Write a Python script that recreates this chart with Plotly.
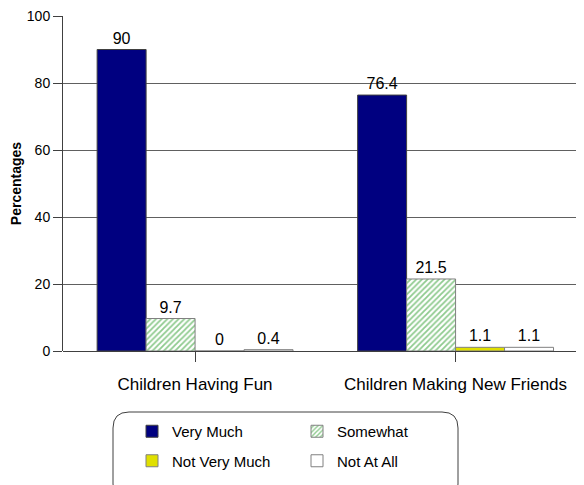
import plotly.graph_objects as go

categories = ["Children Having Fun", "Children Making New Friends"]
very_much = [90, 76.4]
somewhat = [9.7, 21.5]
not_very_much = [0, 1.1]
not_at_all = [0.4, 1.1]
y_ticks = [0, 20, 40, 60, 80, 100]

FONT = "Arial, Liberation Sans, sans-serif"
OFF = 8  # page body margin in the browser
W, H = 584 - OFF, 485 - OFF
# plot area in window pixels: x 63..584, y 16..351
L, R, T, B = 63 - OFF, 0, 16 - OFF, H - (351 - OFF)
PW, PH = W - L - R, H - T - B


def px(x):
    return (x - OFF - L) / PW


def py(y):
    return (H - B - (y - OFF)) / PH


fig = go.Figure()
series = [
    ("Very Much", very_much, dict(color="#000080", line=dict(color="#404040", width=1)), "legend", "g1"),
    ("Somewhat", somewhat, dict(color="white", pattern=dict(shape="/", fgcolor="#1e961e", bgcolor="white", size=4, solidity=0.45),
                                line=dict(color="#808080", width=1)), "legend2", "g2"),
    ("Not Very Much", not_very_much, dict(color="#e0e000", line=dict(color="#808080", width=1)), "legend", "g3"),
    ("Not At All", not_at_all, dict(color="white", line=dict(color="#808080", width=1)), "legend2", "g4"),
]
for name, vals, marker, leg, grp in series:
    fig.add_trace(go.Bar(
        name=name, x=categories, y=vals, marker=marker,
        text=[f"{v:g}" for v in vals], textposition="outside",
        textfont=dict(family=FONT, size=16, color="black"),
        cliponaxis=False, legend=leg, legendgroup=grp,
    ))

# rounded legend box
x0, x1, y0, y1, r = px(113), px(458), py(412), py(500), 16
rx, ry = r / PW, r / PH
path = (f"M {x0+rx},{y0} L {x1-rx},{y0} Q {x1},{y0} {x1},{y0-ry} "
        f"L {x1},{y1+ry} Q {x1},{y1} {x1-rx},{y1} L {x0+rx},{y1} "
        f"Q {x0},{y1} {x0},{y1+ry} L {x0},{y0-ry} Q {x0},{y0} {x0+rx},{y0} Z")
fig.add_shape(type="path", path=path, xref="paper", yref="paper",
              line=dict(color="#404040", width=1), fillcolor="rgba(0,0,0,0)")

legend_common = dict(
    yanchor="top", xanchor="left", orientation="v",
    font=dict(family=FONT, size=15, color="black"),
    bgcolor="rgba(0,0,0,0)", borderwidth=0, tracegroupgap=7,
    traceorder="grouped",
)

fig.update_layout(
    width=W, height=H,
    margin=dict(l=L, r=R, t=T, b=B, autoexpand=False),
    paper_bgcolor="white", plot_bgcolor="white",
    barmode="group", bargap=0.248, bargroupgap=0,
    font=dict(family=FONT, color="black"),
    legend=dict(x=px(132), y=py(415), **legend_common),
    legend2=dict(x=px(297), y=py(415), **legend_common),
    xaxis=dict(
        range=[-0.507, 1.493], automargin=False,
        showgrid=False, showline=False, zeroline=False,
        ticks="outside", ticklen=10, tickcolor="#404040",
        tickfont=dict(family=FONT, size=17, color="black"),
        ticklabelstandoff=8,
    ),
    yaxis=dict(
        range=[0, 100], tickvals=y_ticks, automargin=False,
        ticklabeloverflow="allow",
        showgrid=True, gridcolor="#606060", gridwidth=1,
        zeroline=True, zerolinecolor="#404040", zerolinewidth=1,
        showline=True, linecolor="#404040", linewidth=1,
        ticks="outside", ticklen=9, tickcolor="#404040",
        tickfont=dict(family=FONT, size=14, color="black"),
        title=dict(text="<b>Percentages</b>", font=dict(family=FONT, size=14, color="black"), standoff=8),
    ),
)

fig.write_html("out.html")
